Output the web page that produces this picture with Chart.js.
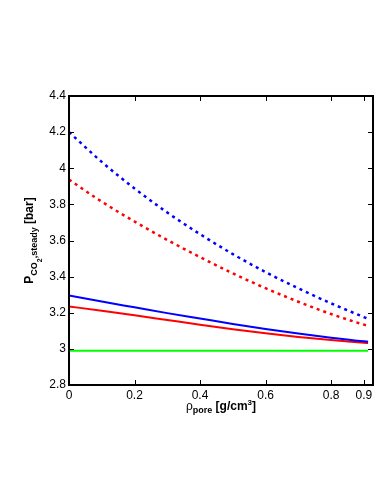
<!DOCTYPE html>
<html>
<head>
<meta charset="utf-8">
<script src="https://cdn.jsdelivr.net/npm/chart.js@4/dist/chart.umd.min.js"></script>
<style>
  html, body { margin: 0; padding: 0; background: #fff; }
  #wrap { width: 382px; height: 494px; }
</style>
</head>
<body>
<div id="wrap"><canvas id="chart" width="382" height="494"></canvas></div>
<script>
// pore density [g/cm3]
const rho = [0, 0.1, 0.2, 0.3, 0.4, 0.5, 0.6, 0.7, 0.8, 0.9, 0.913];

// steady state CO2 pressure [bar]
const blueDotted = [4.20, 4.035, 3.888, 3.755, 3.635, 3.525, 3.425, 3.335, 3.252, 3.176, 3.166];
const redDotted  = [3.937, 3.815, 3.705, 3.603, 3.508, 3.418, 3.336, 3.261, 3.193, 3.134, 3.127];
const blueSolid  = [3.296, 3.262, 3.230, 3.198, 3.168, 3.138, 3.110, 3.085, 3.062, 3.042, 3.040];
const redSolid   = [3.235, 3.211, 3.186, 3.160, 3.134, 3.109, 3.086, 3.066, 3.049, 3.034, 3.032];
const greenLine  = [2.99, 2.99, 2.99, 2.99, 2.99, 2.99, 2.99, 2.99, 2.99, 2.99, 2.99];

const xTicks = [0, 0.2, 0.4, 0.6, 0.8, 0.9];
const yTicks = [2.8, 3.0, 3.2, 3.4, 3.6, 3.8, 4.0, 4.2, 4.4];

const FONT = "'Liberation Sans', Arial, Helvetica, sans-serif";

function pts(ys) {
  return ys.map((y, i) => ({ x: rho[i], y: y }));
}

// draws a row of text pieces (sub/superscripts) centered on 0,0
function drawRich(ctx, parts) {
  let total = 0;
  parts.forEach(p => {
    ctx.font = p.font;
    p.w = ctx.measureText(p.text).width;
    total += p.w;
  });
  let x = -total / 2;
  ctx.textBaseline = 'alphabetic';
  ctx.textAlign = 'left';
  parts.forEach(p => {
    ctx.font = p.font;
    ctx.fillText(p.text, x, p.dy || 0);
    x += p.w;
  });
}

const frame = {
  id: 'frame',
  afterDatasetsDraw(chart) {
    const ctx = chart.ctx;
    const a = chart.chartArea;
    const xs = chart.scales.x, ys = chart.scales.y;
    const tl = 5;
    ctx.save();
    ctx.strokeStyle = '#000';
    ctx.lineWidth = 1;
    ctx.beginPath();
    xTicks.forEach(v => {
      const px = Math.round(xs.getPixelForValue(v)) + 0.5;
      ctx.moveTo(px, a.bottom); ctx.lineTo(px, a.bottom - tl);
      ctx.moveTo(px, a.top); ctx.lineTo(px, a.top + tl);
    });
    yTicks.forEach(v => {
      const py = Math.round(ys.getPixelForValue(v)) + 0.5;
      ctx.moveTo(a.left, py); ctx.lineTo(a.left + tl, py);
      ctx.moveTo(a.right, py); ctx.lineTo(a.right - tl, py);
    });
    ctx.stroke();
    ctx.lineWidth = 2;
    ctx.strokeRect(a.left, a.top, a.right - a.left, a.bottom - a.top);

    ctx.fillStyle = '#000';
    // x title
    ctx.save();
    ctx.translate((a.left + a.right) / 2, a.bottom + 25);
    drawRich(ctx, [
      { text: 'ρ', font: '12px ' + FONT },
      { text: 'pore', font: 'bold 9px ' + FONT, dy: 3 },
      { text: ' [g/cm', font: 'bold 12px ' + FONT },
      { text: '3', font: 'bold 8px ' + FONT, dy: -5 },
      { text: ']', font: 'bold 12px ' + FONT }
    ]);
    ctx.restore();
    // y title
    ctx.save();
    ctx.translate(33, (a.top + a.bottom) / 2);
    ctx.rotate(-Math.PI / 2);
    drawRich(ctx, [
      { text: 'P', font: 'bold 12px ' + FONT },
      { text: 'CO', font: 'bold 9px ' + FONT, dy: 4 },
      { text: '2', font: 'bold 7px ' + FONT, dy: 9 },
      { text: ',steady', font: 'bold 9px ' + FONT, dy: 4 },
      { text: ' [bar]', font: 'bold 12px ' + FONT }
    ]);
    ctx.restore();
    ctx.restore();
  }
};

Chart.defaults.color = '#000';
Chart.defaults.font.family = FONT;
Chart.defaults.font.size = 12;

new Chart(document.getElementById('chart'), {
  type: 'line',
  data: {
    datasets: [
      { data: pts(blueDotted), borderColor: '#0000ff', borderWidth: 2.5, borderDash: [3, 4] },
      { data: pts(redDotted), borderColor: '#ff0000', borderWidth: 2.5, borderDash: [3, 4] },
      { data: pts(blueSolid), borderColor: '#0000ff', borderWidth: 2 },
      { data: pts(redSolid), borderColor: '#ff0000', borderWidth: 2 },
      { data: pts(greenLine), borderColor: '#00ff00', borderWidth: 2 }
    ]
  },
  options: {
    responsive: false,
    animation: false,
    layout: { padding: { left: 0, top: 96, right: 9, bottom: 89 } },
    elements: { point: { radius: 0 }, line: { cubicInterpolationMode: 'monotone', fill: false } },
    plugins: { legend: { display: false }, tooltip: { enabled: false } },
    scales: {
      x: {
        type: 'linear',
        min: 0,
        max: 0.928,
        afterBuildTicks: s => { s.ticks = xTicks.map(v => ({ value: v })); },
        afterFit: s => { s.height = 20; },
        grid: { display: false, drawTicks: false, tickLength: 0 },
        border: { display: false },
        ticks: { padding: 3, maxRotation: 0, autoSkip: false, callback: v => String(v) }
      },
      y: {
        type: 'linear',
        min: 2.8,
        max: 4.4,
        afterBuildTicks: s => { s.ticks = yTicks.map(v => ({ value: v })); },
        afterFit: s => { s.width = 69; },
        grid: { display: false, drawTicks: false, tickLength: 0 },
        border: { display: false },
        ticks: { padding: 3, autoSkip: false, callback: v => String(+v.toFixed(1)) }
      }
    }
  },
  plugins: [frame]
});
</script>
</body>
</html>
